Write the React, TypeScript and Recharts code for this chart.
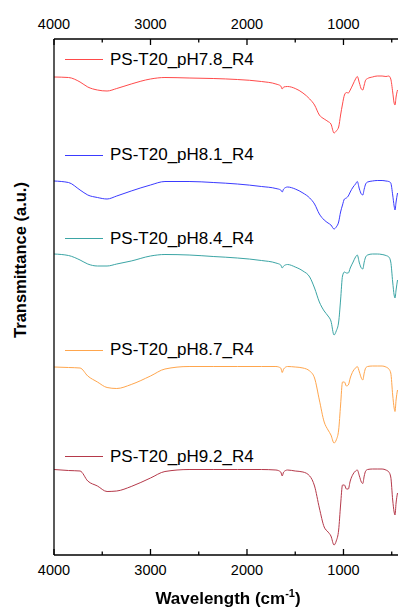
import React from 'react';
import { LineChart, Line, XAxis, YAxis } from 'recharts';

// wavenumber (cm-1) sample points
const wavenumbers = [
  4000, 3850, 3730, 3650, 3550, 3450, 3350, 3200, 3000, 2850,
  2600, 2350, 2100, 1850, 1700, 1650, 1635, 1620, 1580, 1500,
  1420, 1350, 1300, 1250, 1200, 1160, 1130, 1098, 1075, 1050,
  1030, 1010, 990, 970, 950, 930, 900, 875, 857, 835,
  815, 800, 785, 770, 750, 700, 650, 600, 560, 530,
  510, 490, 475, 466, 455, 440,
];

// transmittance (a.u., offset per sample)
const pH78 = [
  479, 478.5, 474, 469, 466, 465, 467.5, 472, 477, 478.5,
  478, 477.5, 476.5, 474.5, 472, 470, 467, 469, 469.5, 467.5,
  463, 457, 451, 441, 437, 434.5, 432, 423, 425, 429,
  441, 452, 461, 463.5, 463, 466, 472, 477, 479.5, 473,
  467, 466, 471, 476, 477.5, 479, 480, 480, 479.5, 480,
  477, 464, 453, 451, 459, 466,
];
const pH81 = [
  375, 373.5, 366, 361, 358.5, 357, 360, 365, 371, 374.5,
  374.5, 373.5, 372, 369.5, 367.5, 366, 364, 367, 369, 367,
  363, 358, 352, 342, 336, 333, 331, 327, 329, 334,
  344, 351, 357, 358, 360, 364, 369, 372, 374.5, 367,
  362, 361, 367, 372, 374, 375, 375.5, 375.5, 375, 374.5,
  373, 361, 350, 346, 354, 363,
];
const pH84 = [
  302, 300.5, 296, 292, 290, 290, 292, 295, 300, 301.5,
  301, 299.5, 298, 295.5, 293, 291, 288, 290, 291.5, 289,
  285, 279, 268, 254, 245, 240, 235, 221, 225, 234,
  256, 280, 284, 283, 283, 288, 294, 299, 301, 293,
  288, 287, 294, 299, 301, 302, 302, 301.5, 300.5, 299,
  294, 274, 261, 258, 266, 276,
];
const pH87 = [
  189, 188.5, 188, 180, 174, 168.5, 167.5, 171.5, 180, 187,
  189.5, 189.5, 189.5, 189.5, 189.5, 188, 183.5, 187, 189.5, 189,
  188, 185, 178, 156, 134, 126, 121, 113, 116, 126,
  151, 174, 174, 170, 171, 178, 185, 188, 189.5, 184,
  178, 176, 183, 188, 189.5, 190, 190, 190, 189, 187,
  183, 161, 148, 144.5, 156, 166,
];
const pH92 = [
  86.5, 85.5, 85, 75, 70, 64.5, 65, 69.5, 78, 84.5,
  86.5, 86.5, 86.5, 86.5, 86, 84, 80, 84, 86, 85,
  84, 80, 70, 48, 29, 24, 20, 11, 15, 26,
  51, 71, 71, 67, 67, 75, 82, 85, 86, 80,
  74, 72.5, 80, 85, 86.5, 87, 87, 87, 86, 84,
  79, 56, 44, 41, 53, 63,
];

const seriesNames = ['PS-T20_pH7.8_R4', 'PS-T20_pH8.1_R4', 'PS-T20_pH8.4_R4', 'PS-T20_pH8.7_R4', 'PS-T20_pH9.2_R4'];
const seriesColors = ['#ff4a4a', '#3b3bff', '#3ba5a5', '#ffa64d', '#b5394a'];
const legendTops = [59.5, 155, 238.5, 350, 456.5];

const xTicks = [4000, 3500, 3000, 2500, 2000, 1500, 1000, 500];
const labelledTicks = [4000, 3000, 2000, 1000];

const allSeries = [pH78, pH81, pH84, pH87, pH92];
const data = wavenumbers.map((wn, i) => {
  const row: Record<string, number> = { wn };
  allSeries.forEach((s, j) => { row['s' + j] = s[i]; });
  return row;
});

const FONT = 'Arial, "Liberation Sans", sans-serif';

const makeTick = (side: 'top' | 'bottom') => (props: any) => {
  const { x, y, payload } = props;
  const major = labelledTicks.includes(payload.value);
  const len = major ? 6 : 3.5;
  const dir = side === 'bottom' ? -1 : 1;
  return (
    <g>
      <line x1={x} x2={x} y1={y} y2={y + dir * len} stroke="#000" strokeWidth={1.3} />
      {major && (
        <text x={x} y={side === 'bottom' ? y + 15 : y - 15} textAnchor="middle" dominantBaseline="central"
          fontSize={14.5} fontFamily={FONT} fill="#000">
          {payload.value}
        </text>
      )}
    </g>
  );
};

const App: React.FC = () => {
  return (
    <div style={{ position: 'fixed', left: 0, top: 0, width: 398, height: 607, background: '#fff', fontFamily: FONT }}>
      <LineChart width={398} height={607} data={data} margin={{ top: 0, right: 0, bottom: 0, left: 0 }}>
        <XAxis dataKey="wn" type="number" domain={[435, 4000]} reversed ticks={xTicks}
          orientation="bottom" xAxisId="bottom" height={52} tickSize={0} tickMargin={0}
          tickLine={false} axisLine={{ stroke: '#000', strokeWidth: 1.3 }} tick={makeTick('bottom')}
          allowDataOverflow interval={0} />
        <XAxis dataKey="wn" type="number" domain={[435, 4000]} reversed ticks={xTicks}
          orientation="top" xAxisId="top" height={39} tickSize={0} tickMargin={0}
          tickLine={false} axisLine={{ stroke: '#000', strokeWidth: 1.3 }} tick={makeTick('top')}
          allowDataOverflow interval={0} />
        <YAxis type="number" domain={[1, 517]} width={54} tick={false} tickLine={false}
          axisLine={{ stroke: '#000', strokeWidth: 1.3 }} allowDataOverflow />
        {seriesColors.map((c, j) => (
          <Line key={j} xAxisId="bottom" type="monotone" dataKey={'s' + j} stroke={c} strokeWidth={1}
            dot={false} isAnimationActive={false} />
        ))}
      </LineChart>

      {seriesNames.map((name, j) => (
        <div key={name} style={{ position: 'absolute', left: 65, top: legendTops[j] - 10, height: 20, display: 'flex', alignItems: 'center' }}>
          <div style={{ width: 38, height: 0, borderTop: `1px solid ${seriesColors[j]}` }} />
          <span style={{ marginLeft: 7, fontSize: 17, color: '#000', whiteSpace: 'nowrap' }}>{name}</span>
        </div>
      ))}

      <div style={{ position: 'absolute', left: 20, top: 260, transform: 'translate(-50%, -50%) rotate(-90deg)', fontSize: 16.5, fontWeight: 'bold', whiteSpace: 'nowrap', color: '#000' }}>
        Transmittance (a.u.)
      </div>
      <div style={{ position: 'absolute', left: 228, top: 598, transform: 'translate(-50%, -50%)', fontSize: 17, fontWeight: 'bold', whiteSpace: 'nowrap', color: '#000' }}>
        Wavelength (cm<sup style={{ fontSize: 11 }}>-1</sup>)
      </div>
    </div>
  );
};

export default App;
